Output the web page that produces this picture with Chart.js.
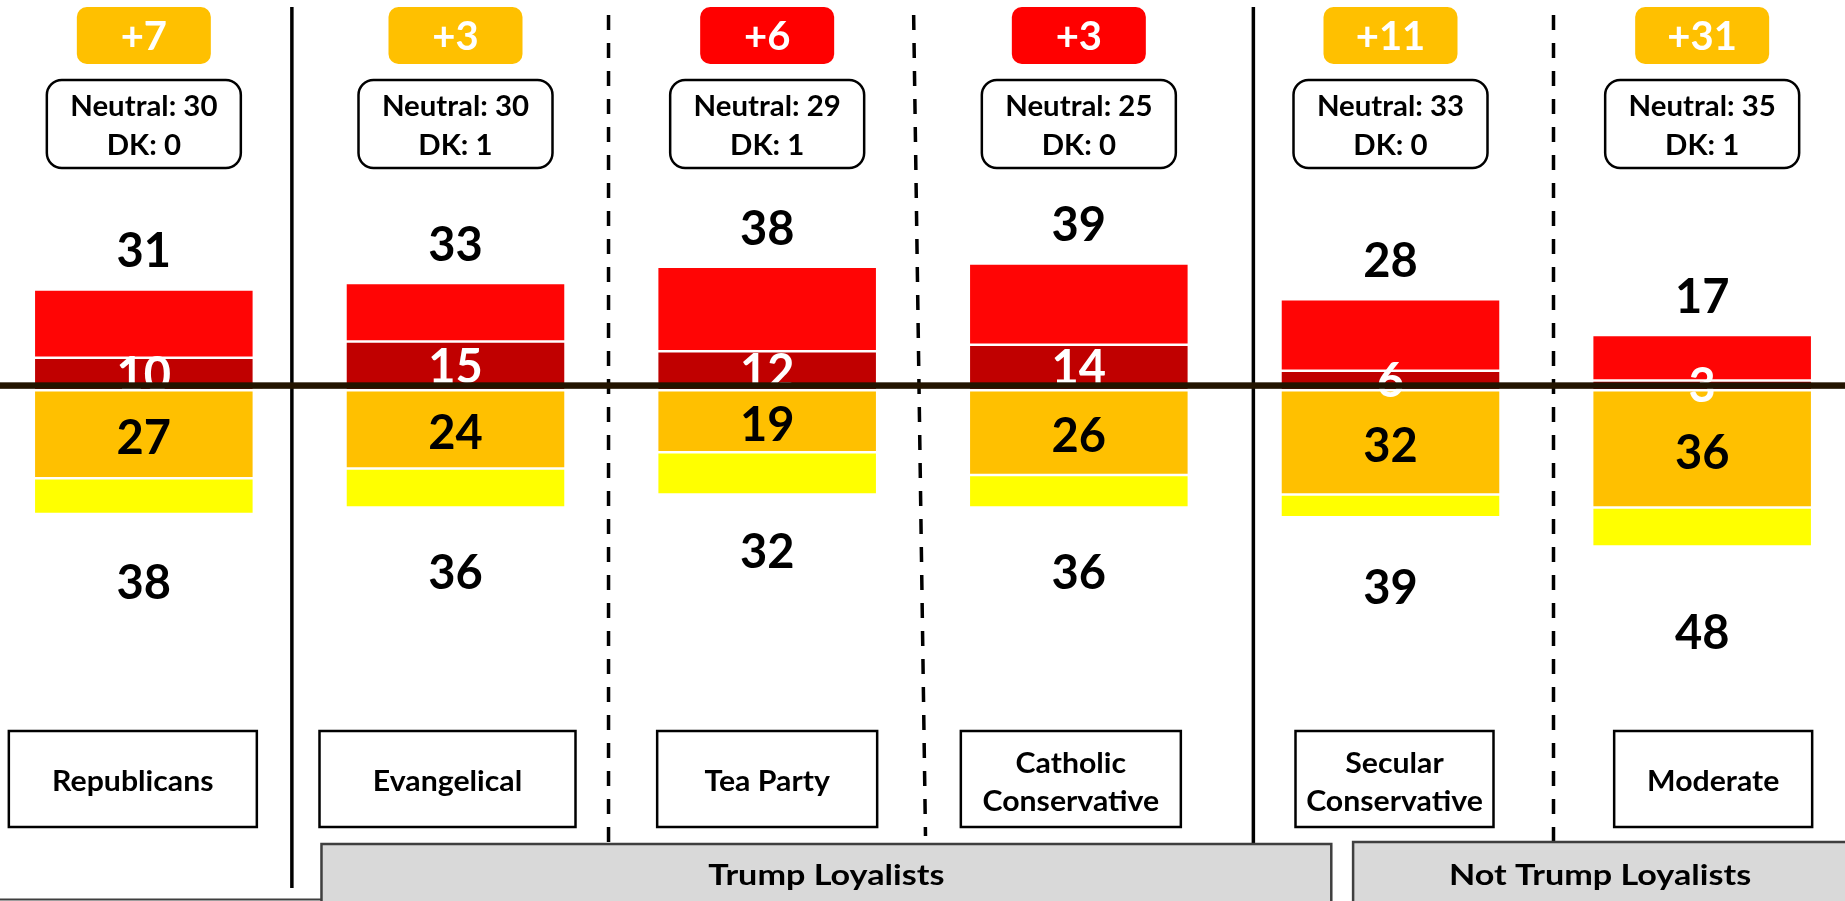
<!DOCTYPE html>
<html>
<head>
<meta charset="utf-8">
<title>Trump loyalists</title>
<script src="https://cdn.jsdelivr.net/npm/chart.js@4.4.1/dist/chart.umd.min.js"></script>
<style>
  html, body { margin: 0; padding: 0; background: #fff; overflow: hidden; width: 1845px; height: 901px; }
  /* canvas is a bit wider than the window so the outer columns sit where the original had them */
  #wrap { position: absolute; left: -12px; top: 0; width: 1870px; height: 901px; }
</style>
</head>
<body>
<div id="wrap"><canvas id="chart" width="1870" height="901"></canvas></div>
<script>
// data
var groups = ['Republicans', 'Evangelical', 'Tea Party', ['Catholic', 'Conservative'], ['Secular', 'Conservative'], 'Moderate'];
var strongPos = [10, 15, 12, 14, 6, 3];
var somePos = [21, 18, 26, 25, 22, 14];
var someNeg = [27, 24, 19, 26, 32, 36];
var strongNeg = [11, 12, 13, 10, 7, 12];
var neutral = [30, 30, 29, 25, 33, 35];
var dontKnow = [0, 1, 1, 0, 0, 1];
var blocs = ['Trump Loyalists', 'Not Trump Loyalists'];

var posTotal = strongPos.map(function(v, i) { return v + somePos[i]; });
var negTotal = someNeg.map(function(v, i) { return v + strongNeg[i]; });

// layout bits (not data)
var labelBoxWidths = [248, 256, 220, 220, 198, 198];
var labelBoxShift = [-11, -8, 0, -8, 4, 11];
var dividers = [
  {after: 0, top: 7, bottom: 888, fracTop: 0.475, fracBottom: 0.475, dash: false},
  {after: 1, top: 15, bottom: 843, fracTop: 0.491, fracBottom: 0.491, dash: true},
  {after: 2, top: 15, bottom: 836, fracTop: 0.47, fracBottom: 0.508, dash: true},
  {after: 3, top: 7, bottom: 843, fracTop: 0.56, fracBottom: 0.56, dash: false},
  {after: 4, top: 15, bottom: 841, fracTop: 0.523, fracBottom: 0.523, dash: true}
];

var FONT = 'Lato';
function drawText(ctx, str, cx, cy, size, color, sx) {
  ctx.save();
  ctx.font = 'bold ' + size + 'px ' + FONT;
  ctx.fillStyle = color;
  ctx.textAlign = 'center';
  ctx.textBaseline = 'alphabetic';
  ctx.translate(cx, cy + size * 0.7165 / 2);
  ctx.scale(sx || 1, 1);
  ctx.fillText(str, 0, 0);
  ctx.restore();
}

function roundRect(ctx, x, y, w, h, r) {
  ctx.beginPath();
  ctx.moveTo(x + r, y);
  ctx.arcTo(x + w, y, x + w, y + h, r);
  ctx.arcTo(x + w, y + h, x, y + h, r);
  ctx.arcTo(x, y + h, x, y, r);
  ctx.arcTo(x, y, x + w, y, r);
  ctx.closePath();
}

var decor = {
  id: 'decor',
  beforeDatasetsDraw: function(chart) {
    var ctx = chart.ctx, x = chart.scales.x;
    var step = x.getPixelForValue(1) - x.getPixelForValue(0);
    ctx.save();
    ctx.strokeStyle = '#000';
    ctx.lineWidth = 3.5;
    dividers.forEach(function(d) {
      var xc = x.getPixelForValue(d.after);
      ctx.setLineDash(d.dash ? [15, 13] : []);
      ctx.beginPath();
      ctx.moveTo(xc + d.fracTop * step, d.top);
      ctx.lineTo(xc + d.fracBottom * step, d.bottom);
      ctx.stroke();
    });
    ctx.restore();
  },
  afterDatasetsDraw: function(chart) {
    var ctx = chart.ctx, x = chart.scales.x, y = chart.scales.y;
    var step = x.getPixelForValue(1) - x.getPixelForValue(0);
    var y0 = y.getPixelForValue(0);

    groups.forEach(function(g, i) {
      var xc = x.getPixelForValue(i);
      // segment labels
      drawText(ctx, String(strongPos[i]), xc, y.getPixelForValue(strongPos[i] / 2), 47, '#fff');
      drawText(ctx, String(someNeg[i]), xc, y.getPixelForValue(-someNeg[i] / 2) + 3, 47, '#000');
    });

    // zero line
    ctx.fillStyle = '#231400';
    ctx.fillRect(0, y0 - 8, chart.width, 6.5);

    groups.forEach(function(g, i) {
      var xc = x.getPixelForValue(i);
      // totals
      drawText(ctx, String(posTotal[i]), xc, y.getPixelForValue(posTotal[i] + 12), 47, '#000');
      drawText(ctx, String(negTotal[i]), xc, y.getPixelForValue(-negTotal[i] * 1.55), 47, '#000');

      // net badge
      var diff = negTotal[i] - posTotal[i];
      ctx.fillStyle = diff >= 0 ? '#FFC000' : '#FF0000';
      roundRect(ctx, xc - 67, 7, 134, 57, 10);
      ctx.fill();
      drawText(ctx, '+' + Math.abs(diff), xc, 35.5, 40, '#fff');

      // neutral / dk box
      ctx.strokeStyle = '#000';
      ctx.lineWidth = 2.5;
      roundRect(ctx, xc - 97, 80, 194, 88, 15);
      ctx.stroke();
      drawText(ctx, 'Neutral: ' + neutral[i], xc, 105.5, 28, '#000', 1.05);
      drawText(ctx, 'DK: ' + dontKnow[i], xc, 145, 28, '#000', 1.05);

      // category box
      var bw = labelBoxWidths[i], bx = xc + labelBoxShift[i];
      ctx.strokeStyle = '#000';
      ctx.lineWidth = 2.5;
      ctx.strokeRect(bx - bw / 2, 731, bw, 96);
      var lines = Array.isArray(g) ? g : [g];
      if (lines.length === 1) {
        drawText(ctx, lines[0], bx, 781, 28, '#000', 1.08);
      } else {
        drawText(ctx, lines[0], bx, 762.5, 28, '#000', 1.08);
        drawText(ctx, lines[1], bx, 801, 28, '#000', 1.08);
      }
    });

    // bloc banners
    var banners = [
      {text: blocs[0], left: x.getPixelForValue(1) - 0.43 * step, right: x.getPixelForValue(3) + 0.81 * step, top: 844},
      {text: blocs[1], left: x.getPixelForValue(4) - 0.12 * step, right: chart.width + 6, top: 842}
    ];
    banners.forEach(function(b, k) {
      ctx.fillStyle = '#D9D9D9';
      ctx.fillRect(b.left, b.top, b.right - b.left, 70);
      ctx.strokeStyle = '#3F3F3F';
      ctx.lineWidth = 2.5;
      ctx.strokeRect(b.left, b.top, b.right - b.left, 70);
      var mid = k === 0 ? (b.left + b.right) / 2 : b.left + 247;
      drawText(ctx, b.text, mid, 875, 28, '#000', 1.22);
    });
    ctx.strokeStyle = '#3F3F3F';
    ctx.lineWidth = 2;
    ctx.beginPath();
    ctx.moveTo(0, 899.5);
    ctx.lineTo(banners[0].left, 899.5);
    ctx.stroke();
  }
};

new Chart(document.getElementById('chart').getContext('2d'), {
  type: 'bar',
  data: {
    labels: groups,
    datasets: [
      {label: 'Strongly positive', data: strongPos, backgroundColor: '#C00000'},
      {label: 'Somewhat positive', data: somePos, backgroundColor: '#FF0505'},
      {label: 'Somewhat negative', data: someNeg.map(function(v) { return -v; }), backgroundColor: '#FFC000'},
      {label: 'Strongly negative', data: strongNeg.map(function(v) { return -v; }), backgroundColor: '#FFFF00'}
    ]
  },
  options: {
    responsive: false,
    animation: false,
    devicePixelRatio: 1,
    layout: {padding: 0},
    plugins: {legend: {display: false}, tooltip: {enabled: false}},
    datasets: {
      bar: {barPercentage: 0.706, categoryPercentage: 1, borderColor: '#fff', borderWidth: 1.25, borderSkipped: false}
    },
    scales: {
      x: {stacked: true, display: false},
      y: {stacked: true, display: false, min: -157, max: 120}
    }
  },
  plugins: [decor]
});
</script>
</body>
</html>
